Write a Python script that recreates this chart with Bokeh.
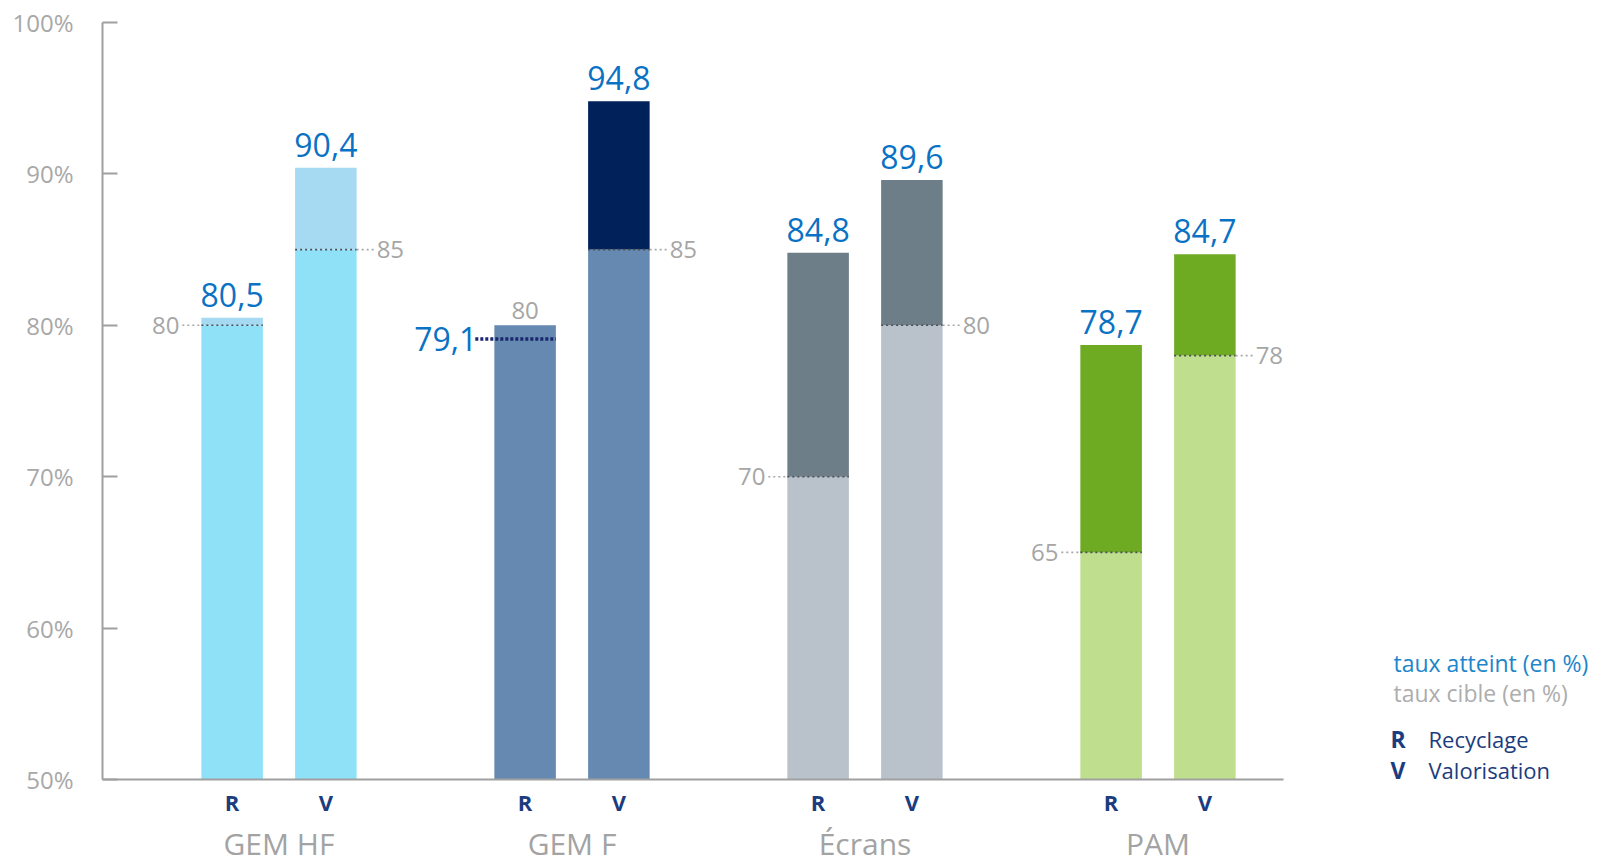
from bokeh.plotting import figure
from bokeh.models import (ColumnDataSource, FixedTicker, PrintfTickFormatter,
                          Range1d, LinearAxis)
from bokeh.core.properties import value
from bokeh.embed import file_html
from bokeh.resources import INLINE

# ---------------- data ----------------
groups = ["GEM HF", "GEM F", "Écrans", "PAM"]
kinds = ["R", "V"]
achieved_R = [80.5, 79.1, 84.8, 78.7]
achieved_V = [90.4, 94.8, 89.6, 84.7]
target_R = [80, 80, 70, 65]
target_V = [85, 85, 80, 78]
color_base = ["#8FE1F8", "#6589B0", "#B9C2CA", "#BFDF8E"]
color_over = ["#A5DAF2", "#00215A", "#6E7E88", "#6EAB22"]
y_ticks = [50, 60, 70, 80, 90, 100]
legend_lines = ["taux atteint (en %)", "taux cible (en %)"]
legend_keys = ["R", "V"]
legend_names = ["Recyclage", "Valorisation"]

# ---------------- geometry / style ----------------
W_PX, H_PX = 1603, 863
X0_PX, GROUP_PX = 278.5, 293.0       # pixel position of group 0, group spacing
Y50_PX, PX_PER_PCT = 779.0, 15.14    # pixel row of 50 %, pixels per percent
OFF = 0.16      # offset of R / V bar from group centre (group units)
W = 0.21        # bar width
STUB = 0.065    # dotted stub beyond the bar
VAL_GAP = 23 / PX_PER_PCT   # bar top -> centre of value label (in %)
TGT_GAP = 15 / PX_PER_PCT   # bar top -> centre of target label above a bar
FONT = "Open Sans"
BLUE = "#0A72C4"
GREY = "#A6A6A6"
NAVY = "#1B3C7E"

def dx(px):
    return (px - X0_PX) / GROUP_PX

def dy(py):
    return 50 + (Y50_PX - py) / PX_PER_PCT

AX_LEFT = dx(102)
AX_RIGHT = dx(1283)

def fmt(v):
    return f"{v:.1f}".replace(".", ",")

bars = dict(x=[], base_top=[], over_bot=[], over_top=[], cbase=[], cover=[])
tline = dict(x0=[], x1=[], y=[])
tstub = dict(x0=[], x1=[], y=[])
under = dict(x0=[], x1=[], y=[])
val_top = dict(x=[], y=[], t=[])
val_left = dict(x=[], y=[], t=[])
tgt_left = dict(x=[], y=[], t=[])
tgt_right = dict(x=[], y=[], t=[])
tgt_top = dict(x=[], y=[], t=[])
tick_pos, tick_lab = [], []

for gi in range(len(groups)):
    for k, ach, tgt in (("R", achieved_R[gi], target_R[gi]),
                        ("V", achieved_V[gi], target_V[gi])):
        x = gi - OFF if k == "R" else gi + OFF
        tick_pos.append(x)
        tick_lab.append(k)
        bars["x"].append(x)
        bars["base_top"].append(tgt)
        bars["over_bot"].append(tgt)
        bars["over_top"].append(max(ach, tgt))
        bars["cbase"].append(color_base[gi])
        bars["cover"].append(color_over[gi])
        if ach >= tgt:
            val_top["x"].append(x); val_top["y"].append(ach + VAL_GAP); val_top["t"].append(fmt(ach))
            tline["x0"].append(x - W / 2); tline["x1"].append(x + W / 2); tline["y"].append(tgt)
            if k == "R":
                tstub["x0"].append(x - W / 2 - STUB); tstub["x1"].append(x - W / 2)
                tgt_left["x"].append(x - W / 2); tgt_left["y"].append(tgt); tgt_left["t"].append(str(tgt))
            else:
                tstub["x0"].append(x + W / 2); tstub["x1"].append(x + W / 2 + STUB)
                tgt_right["x"].append(x + W / 2); tgt_right["y"].append(tgt); tgt_right["t"].append(str(tgt))
            tstub["y"].append(tgt)
        else:
            val_left["x"].append(x - W / 2); val_left["y"].append(ach); val_left["t"].append(fmt(ach))
            under["x0"].append(x - W / 2 - STUB); under["x1"].append(x + W / 2); under["y"].append(ach)
            tgt_top["x"].append(x); tgt_top["y"].append(tgt + TGT_GAP); tgt_top["t"].append(str(tgt))

# ---------------- figure (frame covers the whole canvas) ----------------
p = figure(width=W_PX, height=H_PX, output_backend="svg", toolbar_location=None,
           x_range=Range1d(dx(0), dx(W_PX)), y_range=Range1d(dy(H_PX), dy(0)),
           min_border=0, min_border_left=0, min_border_right=0,
           min_border_top=0, min_border_bottom=0)
p.outline_line_color = None
p.xgrid.grid_line_color = None
p.ygrid.grid_line_color = None
p.background_fill_color = "white"

src = ColumnDataSource(bars)
p.vbar(x="x", width=W, bottom=50, top="base_top", fill_color="cbase",
       line_color=None, source=src)
p.vbar(x="x", width=W, bottom="over_bot", top="over_top", fill_color="cover",
       line_color=None, source=src)

p.segment(x0="x0", x1="x1", y0="y", y1="y", source=ColumnDataSource(tline),
          line_color="#4A4F55", line_width=1.6, line_dash="2 3")
p.segment(x0="x0", x1="x1", y0="y", y1="y", source=ColumnDataSource(tstub),
          line_color="#A8A8A8", line_width=1.6, line_dash="2 3")
p.segment(x0="x0", x1="x1", y0="y", y1="y", source=ColumnDataSource(under),
          line_color="#1A2670", line_width=3.5, line_dash="3 2")

common_val = dict(text="t", text_color=BLUE, text_font=value(FONT),
                  text_font_size="32px", text_baseline="middle")
p.text(x="x", y="y", source=ColumnDataSource(val_top), text_align="center",
       **common_val)
p.text(x="x", y="y", source=ColumnDataSource(val_left), text_align="right",
       x_offset=-17, **common_val)

common_tgt = dict(text="t", text_color=GREY, text_font=value(FONT),
                  text_font_size="24px", text_baseline="middle")
p.text(x="x", y="y", source=ColumnDataSource(tgt_left), text_align="right",
       x_offset=-22, **common_tgt)
p.text(x="x", y="y", source=ColumnDataSource(tgt_right), text_align="left",
       x_offset=20, **common_tgt)
p.text(x="x", y="y", source=ColumnDataSource(tgt_top), text_align="center",
       **common_tgt)

# ---------------- axes ----------------
ya = p.yaxis[0]
ya.fixed_location = AX_LEFT
ya.bounds = (50, 100)
ya.ticker = FixedTicker(ticks=y_ticks)
ya.formatter = PrintfTickFormatter(format="%d%%")
ya.minor_tick_line_color = None
ya.major_tick_in = 15
ya.major_tick_out = 0
ya.major_tick_line_color = "#A0A0A0"
ya.major_tick_line_width = 2
ya.axis_line_color = "#A0A0A0"
ya.axis_line_width = 2
ya.major_label_text_font = FONT
ya.major_label_text_font_size = "24px"
ya.major_label_text_color = "#A8A8A8"
ya.major_label_standoff = 29

xa = p.xaxis[0]
xa.fixed_location = 50
xa.bounds = (AX_LEFT, AX_RIGHT)
xa.ticker = FixedTicker(ticks=tick_pos)
xa.major_label_overrides = {t: l for t, l in zip(tick_pos, tick_lab)}
xa.minor_tick_line_color = None
xa.major_tick_line_color = None
xa.major_tick_in = 0
xa.major_tick_out = 0
xa.axis_line_color = "#A0A0A0"
xa.axis_line_width = 2
xa.major_label_text_font = FONT
xa.major_label_text_font_style = "bold"
xa.major_label_text_font_size = "22px"
xa.major_label_text_color = NAVY
xa.major_label_standoff = 7

gpos = [float(i) for i in range(len(groups))]
ga = LinearAxis(fixed_location=50, ticker=FixedTicker(ticks=gpos),
                major_label_overrides={t: g for t, g in zip(gpos, groups)},
                axis_line_color=None, major_tick_line_color=None,
                minor_tick_line_color=None, major_tick_in=0, major_tick_out=0,
                major_label_standoff=43, major_label_text_font=FONT,
                major_label_text_font_size="30px",
                major_label_text_color="#A3A3A3")
p.add_layout(ga, "below")

# ---------------- legend text block ----------------
leg1 = ColumnDataSource(dict(x=[dx(1393)], y=[dy(662)], t=[legend_lines[0]]))
leg2 = ColumnDataSource(dict(x=[dx(1393)], y=[dy(692)], t=[legend_lines[1]]))
p.text(x="x", y="y", text="t", source=leg1, text_color="#1C86CB",
       text_font=value(FONT), text_font_size="23px", text_baseline="middle")
p.text(x="x", y="y", text="t", source=leg2, text_color="#ADADAD",
       text_font=value(FONT), text_font_size="23px", text_baseline="middle")
keys = ColumnDataSource(dict(x=[dx(1390)] * 2, y=[dy(738), dy(769)], t=legend_keys))
names = ColumnDataSource(dict(x=[dx(1428)] * 2, y=[dy(738), dy(769)], t=legend_names))
p.text(x="x", y="y", text="t", source=keys, text_color=NAVY, text_font=value(FONT),
       text_font_style="bold", text_font_size="23px", text_baseline="middle")
p.text(x="x", y="y", text="t", source=names, text_color=NAVY, text_font=value(FONT),
       text_font_size="22px", text_baseline="middle")

open("out.html", "w").write(file_html(p, INLINE))
